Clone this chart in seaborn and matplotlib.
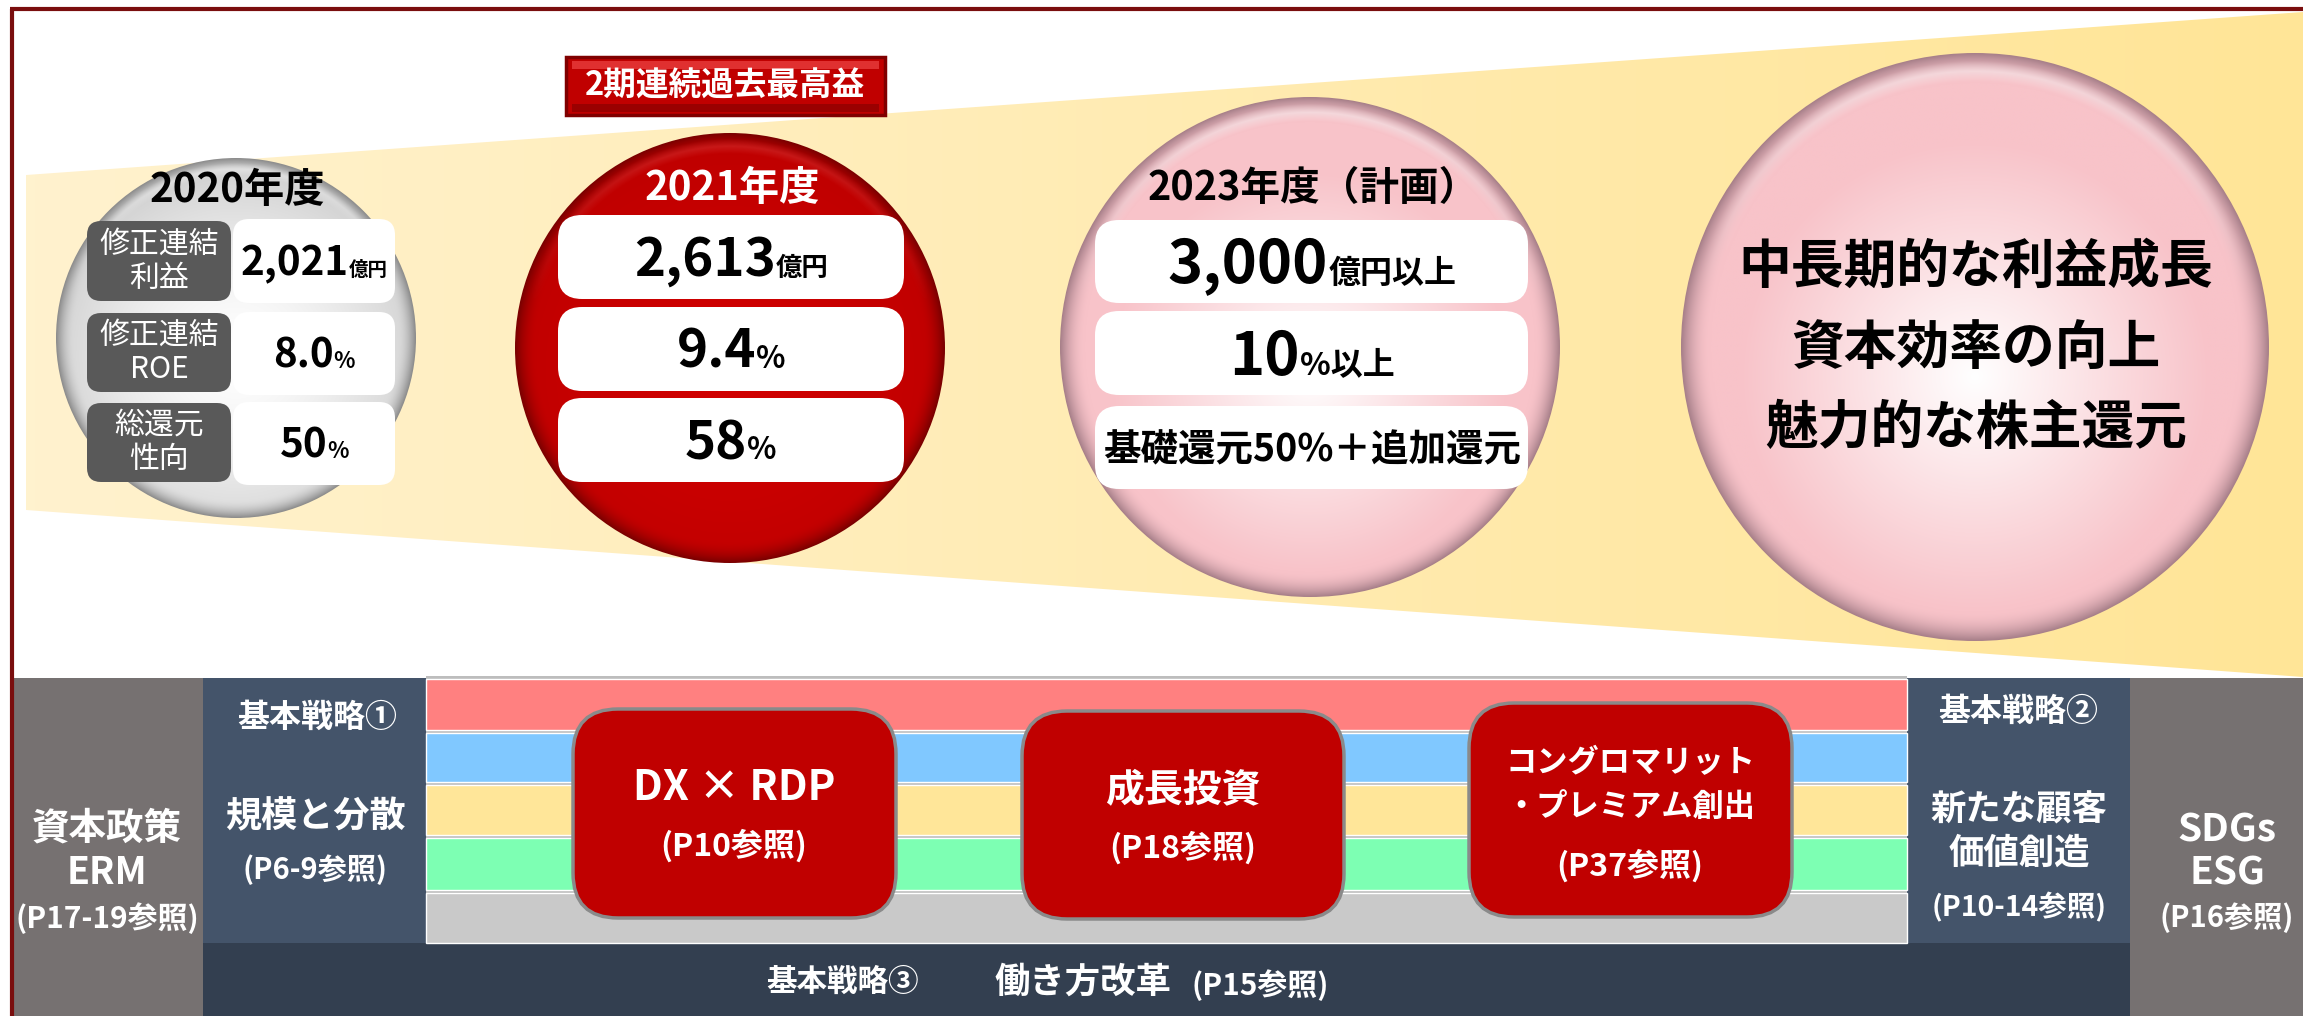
import numpy as np
import seaborn as sns
import matplotlib.pyplot as plt
import matplotlib.colors as mcolors
from matplotlib.patches import Circle, Polygon, Rectangle, FancyBboxPatch

sns.set_theme(style="white")
plt.rcParams['font.family'] = ['Noto Sans CJK JP', 'DejaVu Sans']

# ---- data ----
years = ["2020年度", "2021年度", "2023年度（計画）"]
profit = ["2,021", "2,613", "3,000"]
profit_unit = ["億円", "億円", "億円以上"]
roe = ["8.0", "9.4", "10"]
roe_unit = ["%", "%", "%以上"]
payout = ["50", "58", "基礎還元50%＋追加還元"]
payout_unit = ["%", "%", ""]
metric_labels = ["修正連結\n利益", "修正連結\nROE", "総還元\n性向"]
record_banner = "2期連続過去最高益"
long_term_goals = ["中長期的な利益成長", "資本効率の向上", "魅力的な株主還元"]

initiatives = ["DX × RDP", "成長投資", "コングロマリット\n・プレミアム創出"]
initiative_refs = ["(P10参照)", "(P18参照)", "(P37参照)"]
strategy_tags = ["基本戦略①", "基本戦略②", "基本戦略③"]
strategy_names = ["規模と分散", "新たな顧客\n価値創造", "働き方改革"]
strategy_refs = ["(P6-9参照)", "(P10-14参照)", "(P15参照)"]
pillars = ["資本政策\nERM", "SDGs\nESG"]
pillar_refs = ["(P17-19参照)", "(P16参照)"]
stripe_colors = ["#FF8080", "#80C8FF", "#FFE699", "#7DFFB3", "#C9C9C9"]

# ---- canvas in pixel units ----
W, H = 2303, 1016
fig = plt.figure(figsize=(W / 100, H / 100), dpi=100)
ax = fig.add_axes([0, 0, 1, 1])
ax.axis('off')
PX = 100 / 72  # px per point


def disc(cx, cy, r, inner, outer, rim, spread=1.1, power=1.3, spot=(0.0, 0.1), hl_amt=0.6, hl_col="white", z=2):
    """Kreis mit radialem Verlauf, Rand und Glanzlicht."""
    n = 500
    yy, xx = np.mgrid[-1:1:n * 1j, -1:1:n * 1j]
    rr = np.hypot(xx, yy)
    d = np.clip(np.hypot(xx - spot[0], yy - spot[1]) / spread, 0, 1) ** power
    ci, co, cr, ch = (np.array(mcolors.to_rgb(c)) for c in (inner, outer, rim, hl_col))
    img = ci * (1 - d[..., None]) + co * d[..., None]
    e = (np.clip((rr - 0.9) / 0.1, 0, 1) ** 2)[..., None]
    img = img * (1 - e) + cr * e
    hl = (np.clip(1 - np.abs(rr - 0.94) / 0.035, 0, 1) * np.clip(-yy - 0.2, 0, 1))[..., None] * hl_amt
    img = np.clip(img * (1 - hl) + ch * hl, 0, 1)
    im = ax.imshow(img, extent=(cx - r, cx + r, cy + r, cy - r), zorder=z, interpolation='bilinear')
    patch = Circle((cx, cy), r, facecolor='none', edgecolor='none', zorder=z)
    ax.add_patch(patch)
    im.set_clip_path(patch)


def rbox(x0, y0, x1, y1, fc, rs=18, ec='none', lw=0, z=4):
    ax.add_patch(FancyBboxPatch((x0, y0), x1 - x0, y1 - y0, boxstyle=f"round,pad=0,rounding_size={rs}",
                                fc=fc, ec=ec, lw=lw, zorder=z))


pending = []


def mixed(cx, yc, parts, color='black'):
    big = parts[0][1]
    base = yc + 0.36 * big * PX
    objs = [ax.text(0, base, s, fontsize=sz, fontweight='bold', color=color, ha='left', va='baseline', zorder=6)
            for s, sz in parts if s]
    pending.append((cx, objs))


def txt(x, y, s, sz, color='white', weight='bold', **kw):
    ax.text(x, y, s, fontsize=sz, fontweight=weight, color=color, ha='center', va='center', zorder=6, **kw)


# ---- yellow wedge ----
wedge = Polygon([(26, 175), (W, 12), (W, 677), (26, 510)], closed=True, fc='none', ec='none', zorder=1)
ax.add_patch(wedge)
grad = np.linspace(0, 1, 256)[None, :, None]
c0, c1 = np.array(mcolors.to_rgb("#FFF2CE")), np.array(mcolors.to_rgb("#FFE597"))
gim = ax.imshow(c0 * (1 - grad) + c1 * grad, extent=(26, W, 677, 12), zorder=1, aspect='auto')
gim.set_clip_path(wedge)

# ---- 2020 circle ----
disc(236, 338, 180, "#FFFFFF", "#D4D4D4", "#8C8C8C", spread=1.0, power=1.5)
txt(237, 190, years[0], 29, color='black')
rows20_l = [(221, 301), (313, 392), (403, 482)]
rows20_v = [(219, 303), (312, 395), (402, 485)]
vals = [[(profit[0], 29), (profit_unit[0], 14)], [(roe[0], 29), (roe_unit[0], 16)], [(payout[0], 29), (payout_unit[0], 16)]]
for (a, b), (c, d), lab, v in zip(rows20_l, rows20_v, metric_labels, vals):
    rbox(87, a, 231, b, "#595959", rs=14)
    rbox(233, c, 395, d, "white", rs=16)
    txt(159, (a + b) / 2, lab, 21.5, weight='normal', linespacing=1.15)
    mixed(314, (c + d) / 2, v)

# ---- 2021 circle ----
disc(730, 348, 215, "#D20000", "#C00000", "#7A0000", spread=1.0, power=1.2, hl_amt=0.35, hl_col="#FF6060")
ax.add_patch(Rectangle((566, 57), 319, 58, fc="#C00000", ec="#800000", lw=2.5, zorder=4))
ax.add_patch(Rectangle((572, 61), 307, 8, fc="#E03030", ec='none', zorder=4))
ax.add_patch(Rectangle((572, 104), 307, 8, fc="#9A0000", ec='none', zorder=4))
txt(725, 86, record_banner, 23.5)
txt(732, 188, years[1], 29)
rows21 = [(215, 299), (307, 391), (398, 482)]
vals = [[(profit[1], 38), (profit_unit[1], 19)], [(roe[1], 38), (roe_unit[1], 22)], [(payout[1], 38), (payout_unit[1], 22)]]
for (a, b), v in zip(rows21, vals):
    rbox(558, a, 904, b, "white", rs=24)
    mixed(731, (a + b) / 2, v)

# ---- 2023 circle ----
disc(1310, 347, 250, "#FFFFFF", "#F8C3C9", "#A8808A", spread=0.8, power=1.0)
txt(1313, 188, years[2], 28.5, color='black')
rows23 = [(220, 303), (311, 395), (406, 489)]
vals = [[(profit[2], 43), (profit_unit[2], 23)], [(roe[2], 43), (roe_unit[2], 23)], [(payout[2], 27)]]
for (a, b), v in zip(rows23, vals):
    rbox(1095, a, 1528, b, "white", rs=24)
    mixed(1312, (a + b) / 2, v)

# ---- long-term circle ----
disc(1975, 347, 294, "#FFFFFF", "#F8C3C9", "#A8808A", spread=0.8, power=1.0)
for y, s in zip([267, 348, 428], long_term_goals):
    txt(1976, y, s, 38, color='black')

# ---- bottom band ----
ax.add_patch(Rectangle((10, 678), 193, H - 678, fc="#767171", ec='none', zorder=1))
ax.add_patch(Rectangle((203, 678), 223, 265, fc="#44546A", ec='none', zorder=1))
ax.add_patch(Rectangle((1907, 678), 223, 265, fc="#44546A", ec='none', zorder=1))
ax.add_patch(Rectangle((2130, 678), W - 2130, H - 678, fc="#767171", ec='none', zorder=1))
ax.add_patch(Rectangle((203, 943), 1927, H - 943, fc="#333F50", ec='none', zorder=1))
ax.add_patch(Rectangle((426, 676), 1481, 267, fc="#BDBDBD", ec='none', zorder=1))
stripe_top = [679, 733, 785, 838, 893]
stripe_bot = [730, 782, 835, 890, 943]
ax.barh([(a + b) / 2 for a, b in zip(stripe_top, stripe_bot)], 1481, left=426,
        height=[b - a for a, b in zip(stripe_top, stripe_bot)], color=stripe_colors, zorder=2)

boxes = [(573, 709, 896, 918), (1022, 711, 1344, 919), (1469, 703, 1792, 917)]
for (x0, y0, x1, y1) in boxes:
    rbox(x0, y0, x1, y1, "#C00000", rs=45, ec="#8A8A8A", lw=2.5, z=3)
txt(734, 788, initiatives[0], 30)
txt(734, 846, initiative_refs[0], 23)
txt(1183, 790, initiatives[1], 28)
txt(1183, 848, initiative_refs[1], 23)
l1, l2 = initiatives[2].split("\n")
txt(1630, 763, l1, 22.5)
txt(1630, 808, l2, 22.5)
txt(1630, 866, initiative_refs[2], 23)

# left / right pillars
p1, p2 = pillars[0].split("\n")
txt(107, 828, p1, 27)
txt(107, 873, p2, 27)
txt(107, 918, pillar_refs[0], 21.5)
q1, q2 = pillars[1].split("\n")
txt(2227, 830, q1, 28)
txt(2227, 873, q2, 28)
txt(2227, 918, pillar_refs[1], 21)

# strategies
txt(317, 718, strategy_tags[0], 23)
txt(315, 817, strategy_names[0], 26)
txt(315, 870, strategy_refs[0], 21)
txt(2018, 712, strategy_tags[1], 23)
s1, s2 = strategy_names[1].split("\n")
txt(2019, 810, s1, 25.5)
txt(2019, 853, s2, 25.5)
txt(2019, 907, strategy_refs[1], 20.5)
txt(843, 982, strategy_tags[2], 22)
txt(1083, 982, strategy_names[2], 25.5)
txt(1260, 985, strategy_refs[2], 21.5)

# frame
ax.plot([12, 12], [9, H], color="#7A0E0E", lw=3, zorder=7, solid_capstyle='butt')
ax.plot([10, W], [9, 9], color="#7A0E0E", lw=3, zorder=7, solid_capstyle='butt')

ax.set_xlim(0, W)
ax.set_ylim(H, 0)
ax.set_aspect('auto')

# place mixed-size values side by side
fig.canvas.draw()
renderer = fig.canvas.get_renderer()
for cx, objs in pending:
    widths = [t.get_window_extent(renderer).width for t in objs]
    x = cx - sum(widths) / 2
    for t, w in zip(objs, widths):
        t.set_x(x)
        x += w

fig.savefig("out.png", dpi=100)
